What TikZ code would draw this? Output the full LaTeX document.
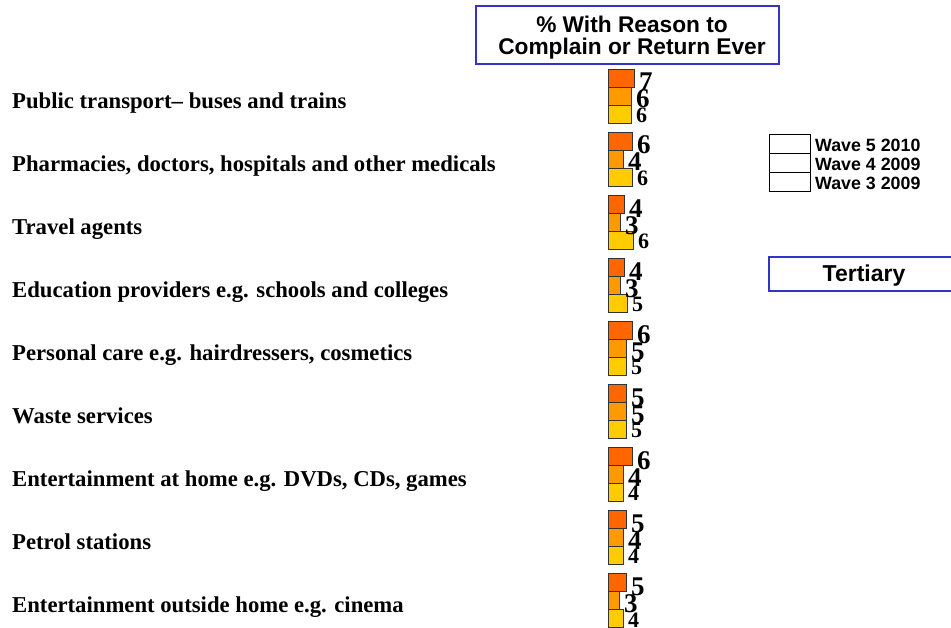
\documentclass[tikz,border=0pt]{standalone}
\usepackage{fontspec}
\setmainfont{Liberation Serif}
\newfontfamily\arialf{Liberation Sans}
\definecolor{frameblue}{RGB}{51,51,204}
\definecolor{barA}{RGB}{255,102,0}
\definecolor{barB}{RGB}{255,153,0}
\definecolor{barC}{RGB}{255,204,0}
\begin{document}
\begin{tikzpicture}[x=1pt,y=-1pt,
  rowlabel/.style={anchor=base west,inner sep=0,font=\bfseries\fontsize{22.7}{26}\selectfont},
  bar/.style={draw=black!80,line width=0.8pt},
  val/.style={anchor=west,inner sep=0,font=\bfseries\fontsize{27}{27}\selectfont},
  vallow/.style={anchor=west,inner sep=0,font=\bfseries\fontsize{22}{22}\selectfont},
  bluebox/.style={draw=frameblue,line width=2.2pt,fill=white},
  legbox/.style={draw=black,line width=0.8pt},
  legtext/.style={anchor=base west,inner sep=0,font=\arialf\bfseries\fontsize{17.8}{20}\selectfont},
  headtext/.style={inner sep=0,align=center,font=\arialf\bfseries\fontsize{22.7}{22}\selectfont}]
\useasboundingbox (0,0) rectangle (951,627);
% title
\draw[bluebox] (476,6) rectangle (779,64);
\node[headtext] (title) at (632,37.5) {\% With Reason to\\Complain or Return Ever};
% legend
\draw[legbox] (769,134) rectangle (810,153);
\draw[legbox] (769,153) rectangle (810,172);
\draw[legbox] (769,172) rectangle (810,191);
\node[legtext] (leg5) at (815,151) {Wave 5 2010};
\node[legtext] (leg4) at (815,170) {Wave 4 2009};
\node[legtext] (leg3) at (815,189) {Wave 3 2009};
% tertiary
\draw[bluebox] (769,257) rectangle (960,291);
\node[headtext,font=\arialf\bfseries\fontsize{23}{22}\selectfont] (tert) at (864,275.5) {Tertiary};
% rows
\foreach \i/\lab/\a/\b/\c/\va/\vb/\vc in {
  0/{Public transport– buses and trains}/26/23/23/7/6/6,
  1/{Pharmacies, doctors, hospitals and other medicals}/24/15/24/6/4/6,
  2/{Travel agents}/16/12/25/4/3/6,
  3/{Education providers e.g. schools  and colleges}/16/12/19/4/3/5,
  4/{Personal care e.g. hairdressers, cosmetics}/24/18/18/6/5/5,
  5/{Waste services}/18/18/18/5/5/5,
  6/{Entertainment at home e.g. DVDs, CDs, games}/24/15/15/6/4/4,
  7/{Petrol stations}/18/15/15/5/4/4,
  8/{Entertainment outside home e.g. cinema}/18/11/15/5/3/4}{
  \pgfmathsetmacro\t{69+63.1*\i}
  \node[rowlabel] (lab\i) at (12,\t+39) {\lab};
  \draw[bar,fill=barA] (608,\t) rectangle (608+\a,\t+18);
  \draw[bar,fill=barB] (608,\t+18) rectangle (608+\b,\t+36);
  \draw[bar,fill=barC] (608,\t+36) rectangle (608+\c,\t+54);
  \node[val] (va\i) at (608+\a+5,\t+13) {\va};
  \node[val] (vb\i) at (608+\b+5,\t+30) {\vb};
  \node[vallow] (vc\i) at (608+\c+5,\t+46) {\vc};
}
\end{tikzpicture}
\end{document}
